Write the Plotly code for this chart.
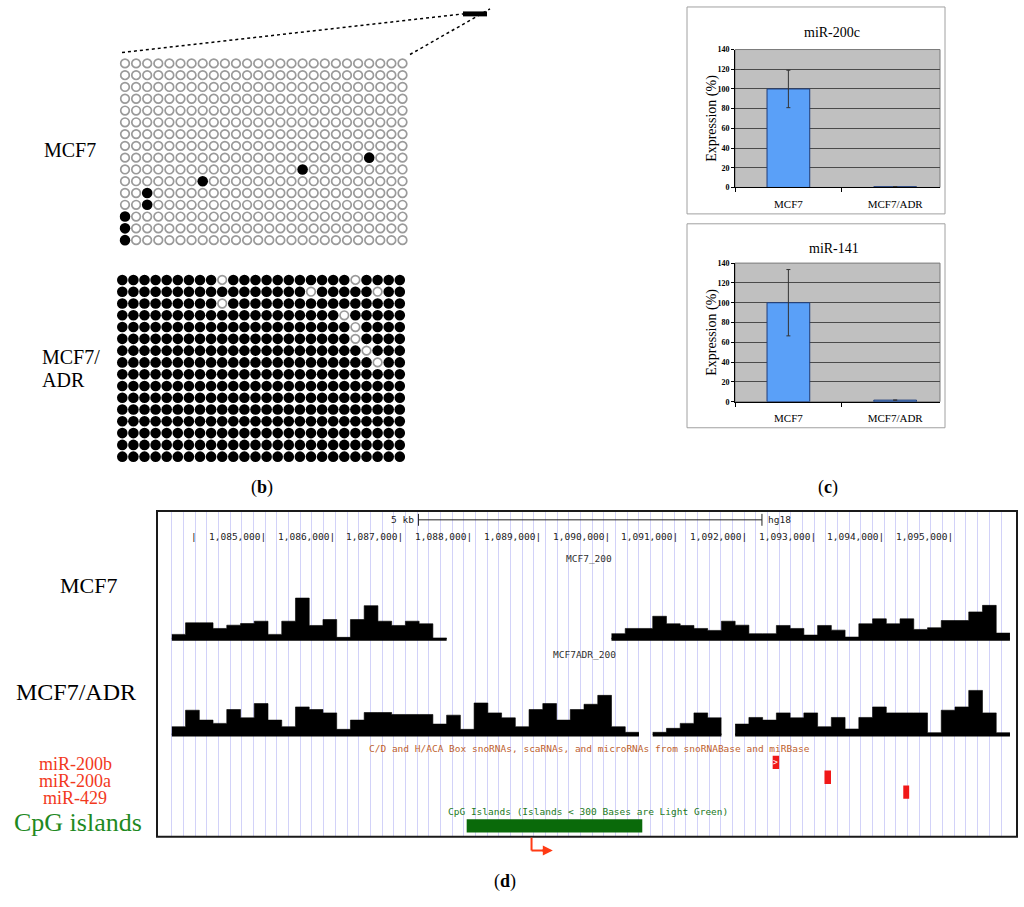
import plotly.graph_objects as go

W, H = 1024, 907
SERIF = "Liberation Serif"
MONO = "DejaVu Sans Mono"

# (b) bisulfite sequencing: 16 clones x 26 CpG sites
n_clones, n_sites = 16, 26
mcf7_meth_clone = [8, 9, 10, 11, 12, 13, 14, 15]
mcf7_meth_site = [22, 16, 7, 2, 2, 0, 0, 0]
adr_unmeth_clone = [0, 0, 1, 1, 2, 3, 4, 5, 6, 7]
adr_unmeth_site = [9, 21, 17, 23, 9, 20, 21, 21, 22, 23]

# (c) relative expression
cells = ["MCF7", "MCF7/ADR"]
mir200c = [100, 0.8]
mir200c_sd = [19, 0]
mir141 = [100, 1.6]
mir141_sd = [33.5, 0]

# (d) genome browser, chr1 hg18, 200 bp bins (None = no data)
bin_first = 1083600
bin_size = 200
mcf7_cov = [5, 16.7, 16.7, 11, 14.3, 16, 18.3, 5, 18.3, 41.7,
            14, 20, 2, 20, 34, 18.3, 14, 18.3, 15.7, 1,
            None, None, None, None, None, None, None, None, None, None,
            None, None, 5.7, 11, 11, 23.3, 15.7, 14, 11, 9,
            18.3, 14.3, 5.7, 5.7, 14, 11, 4.3, 14, 9.3, 2.3,
            15.7, 20.7, 15.7, 20.7, 10, 11.7, 19, 19, 27.7, 34.3, 6.3]
adr_cov = [8.3, 25, 15, 11.7, 25.7, 17.3, 31.7, 15, 8.3, 28.3,
           25.7, 22.3, 5.7, 15, 22.7, 22.7, 20.7, 20.7, 20.7, 11,
           20, 5.7, 32.3, 22.3, 17.3, 8.3, 25.7, 31.7, 15, 25.7,
           31, 40, 8.3, 2.7, None, 2.7, 6.7, 11.7, 22.3, 17.3,
           None, 11, 17.7, 15, 22.3, 17.3, 22.3, 8.3, 17.7, 6,
           17.7, 28.3, 22.3, 22.3, 22.3, 2.3, 25, 28.3, 45, 22.3, 2.3]
ruler = list(range(1084000, 1096000, 1000))
mirna_names = ["miR-200b", "miR-200a", "miR-429"]
mirna_start = [1092346, 1093100, 1094247]
mirna_end = [1092440, 1093195, 1094333]
cpg_start = [1087892]
cpg_end = [1090448]
tss = 1088836
scalebar_start, scalebar_len = 1087190, 5000


def xd(a, b):
    return [a / W, b / W]


def yd(top, bottom):
    return [1 - bottom / H, 1 - top / H]


def px(x):
    return x / W


def py(y):
    return 1 - y / H


# genome coordinate <-> pixel mapping of the browser image
BP_PX, REF_BP, REF_PX = 0.0687, 1085000, 268


def grange(a, b):
    return [REF_BP + (a - REF_PX) / BP_PX, REF_BP + (b - REF_PX) / BP_PX]


fig = go.Figure()

# browser guide lines (drawn first, under tracks)
fig.add_trace(go.Scatter(x=[None], y=[None], xaxis="x", yaxis="y", hoverinfo="skip"))


def dot_traces(marked_clone, marked_site, default_filled, xa, ya):
    marks = set(zip(marked_clone, marked_site))
    fx, fy, ox, oy = [], [], [], []
    for r in range(n_clones):
        for c in range(n_sites):
            if ((r, c) in marks) != default_filled:
                fx.append(c); fy.append(r)
            else:
                ox.append(c); oy.append(r)
    return [
        go.Scatter(x=ox, y=oy, mode="markers", xaxis=xa, yaxis=ya,
                   marker=dict(size=8.6, color="white", line=dict(color="#9a9a9a", width=1.7))),
        go.Scatter(x=fx, y=fy, mode="markers", xaxis=xa, yaxis=ya,
                   marker=dict(size=10.6, color="black", line=dict(width=0))),
    ]


fig.add_traces(dot_traces(mcf7_meth_clone, mcf7_meth_site, False, "x2", "y2"))
fig.add_traces(dot_traces(adr_unmeth_clone, adr_unmeth_site, True, "x3", "y3"))

# (c) bar charts
for vals, sd, xa, ya in [(mir200c, mir200c_sd, "x4", "y4"), (mir141, mir141_sd, "x5", "y5")]:
    fig.add_trace(go.Bar(
        x=cells, y=vals, width=0.4, xaxis=xa, yaxis=ya,
        marker=dict(color="#5aa0f8", line=dict(color="#1f3c78", width=1)),
        error_y=dict(type="data", array=sd, color="#333333", thickness=1, width=2),
    ))


def cov_traces(vals, xa, ya):
    # one stepped, filled profile per covered stretch, plus its baseline
    runs, cur = [], []
    for i, v in enumerate(vals + [None]):
        if v is not None:
            cur.append(i)
        elif cur:
            runs.append(cur)
            cur = []
    out = []
    for run in runs:
        edges = [bin_first + bin_size * i for i in run] + [bin_first + bin_size * (run[-1] + 1)]
        heights = [vals[i] for i in run] + [vals[run[-1]]]
        out.append(go.Scatter(x=edges, y=heights, mode="lines", xaxis=xa, yaxis=ya,
                              fill="tozeroy", fillcolor="black",
                              line=dict(shape="hv", color="black", width=0.6)))
        out.append(go.Scatter(x=[edges[0], edges[-1]], y=[0, 0], mode="lines",
                              xaxis=xa, yaxis=ya, line=dict(color="black", width=3)))
    return out


fig.add_traces(cov_traces(mcf7_cov, "x6", "y6"))
fig.add_traces(cov_traces(adr_cov, "x7", "y7"))

# feature track: miRNAs rows 0..2, CpG island lower row
mirna_rows = [0, 1, 2]
cpg_row = 4.27
fig.add_trace(go.Bar(
    orientation="h", base=mirna_start, x=[e - s for s, e in zip(mirna_start, mirna_end)],
    y=mirna_rows, width=0.9, xaxis="x8", yaxis="y8",
    marker=dict(color="#f01818", line=dict(width=0)),
))
fig.add_trace(go.Bar(
    orientation="h", base=cpg_start, x=[e - s for s, e in zip(cpg_start, cpg_end)],
    y=[cpg_row], width=0.9, xaxis="x8", yaxis="y8",
    marker=dict(color="#0a6a0a", line=dict(width=0)),
))

hidden = dict(visible=False)
G = grange(158, 1016)
layout = dict(
    width=W, height=H, margin=dict(l=0, r=0, t=0, b=0),
    paper_bgcolor="white", plot_bgcolor="rgba(0,0,0,0)",
    showlegend=False, barmode="overlay",
    xaxis=dict(domain=xd(170, 1012), range=grange(170, 1012), anchor="y",
               showgrid=True, gridcolor="#d2d2f8", gridwidth=1, tick0=bin_first, dtick=170,
               showticklabels=False, ticks="", zeroline=False, showline=False),
    yaxis=dict(domain=yd(513, 840), range=[0, 1], anchor="x", visible=False),
    xaxis2=dict(domain=xd(119.45, 408.05), range=[-0.5, n_sites - 0.5], anchor="y2", **hidden),
    yaxis2=dict(domain=yd(54.05, 244.45), range=[n_clones - 0.5, -0.5], anchor="x2", **hidden),
    xaxis3=dict(domain=xd(116.75, 405.35), range=[-0.5, n_sites - 0.5], anchor="y3", **hidden),
    yaxis3=dict(domain=yd(272.75, 463.15), range=[n_clones - 0.5, -0.5], anchor="x3", **hidden),
    xaxis6=dict(domain=xd(158, 1016), range=G, anchor="y6", **hidden),
    yaxis6=dict(domain=yd(591.7, 643.7), range=[-2, 50], anchor="x6", **hidden),
    xaxis7=dict(domain=xd(158, 1016), range=G, anchor="y7", **hidden),
    yaxis7=dict(domain=yd(688.3, 740.3), range=[-2, 50], anchor="x7", **hidden),
    xaxis8=dict(domain=xd(158, 1016), range=G, anchor="y8", **hidden),
    yaxis8=dict(domain=yd(755, 841), range=[5.0, -0.733], anchor="x8", **hidden),
)

for n, (top, bot) in [(4, (46, 185.3)), (5, (261.7, 401.7))]:
    layout[f"xaxis{n}"] = dict(
        domain=xd(735, 940), range=[-0.5, 1.42], anchor=f"y{n}", type="category",
        showline=True, linecolor="black", linewidth=1, ticks="outside", tickson="boundaries",
        ticklen=4, tickcolor="black", ticklabelstandoff=6,
        tickfont=dict(family=SERIF, size=11, color="black"), showgrid=False)
    layout[f"yaxis{n}"] = dict(
        domain=yd(top, bot), range=[0, 140], dtick=20, anchor=f"x{n}",
        showgrid=True, gridcolor="#4a4a4a", gridwidth=1, zeroline=False,
        showline=True, linecolor="black", linewidth=1, ticks="outside", ticklen=3,
        tickcolor="black", tickfont=dict(family=SERIF, size=8, color="black", weight="bold"))

shapes = []
# (c) plot areas and chart frames
for n in (4, 5):
    shapes.append(dict(type="rect", xref=f"x{n} domain", yref=f"y{n} domain", x0=0, x1=1, y0=0, y1=1,
                       fillcolor="#c0c0c0", line=dict(color="#7a7a7a", width=1), layer="below"))
for top, bot in [(3, 212), (222, 428)]:
    shapes.append(dict(type="rect", xref="paper", yref="paper", x0=px(687), x1=px(945),
                       y0=py(bot), y1=py(top), line=dict(color="#a0a0a0", width=1)))

# (b) zoom indicator
shapes += [
    dict(type="line", xref="paper", yref="paper", x0=px(122), y0=py(49), x1=px(463), y1=py(10),
         line=dict(color="black", width=1.5, dash="dot")),
    dict(type="line", xref="paper", yref="paper", x0=px(410), y0=py(51), x1=px(490), y1=py(5),
         line=dict(color="black", width=1.5, dash="dot")),
    dict(type="rect", xref="paper", yref="paper", x0=px(463), x1=px(487), y0=py(12.5), y1=py(7.5),
         fillcolor="black", line=dict(width=0)),
]

# (d) browser frame, scale bar and TSS arrow
shapes.append(dict(type="rect", xref="paper", yref="paper", x0=px(157), x1=px(1017),
                   y0=py(841), y1=py(512), line=dict(color="#1a1a1a", width=2)))
sb0, sb1 = scalebar_start, scalebar_start + scalebar_len
shapes += [
    dict(type="line", xref="x6", yref="paper", x0=sb0, x1=sb1, y0=py(521), y1=py(521),
         line=dict(color="#222", width=1)),
    dict(type="line", xref="x6", yref="paper", x0=sb0, x1=sb0, y0=py(515), y1=py(527),
         line=dict(color="#222", width=1)),
    dict(type="line", xref="x6", yref="paper", x0=sb1, x1=sb1, y0=py(515), y1=py(527),
         line=dict(color="#222", width=1)),
    dict(type="line", xref="x8", yref="paper", x0=tss, x1=tss, y0=py(842), y1=py(855),
         line=dict(color="#ff3a14", width=2)),
    dict(type="line", xref="x8", yref="paper", x0=tss, x1=tss + 220, y0=py(855), y1=py(855),
         line=dict(color="#ff3a14", width=2)),
]
layout["shapes"] = shapes


def note(text, x, y, size, color="black", family=SERIF, xanchor="center", **kw):
    return dict(text=text, x=px(x), y=py(y), xref="paper", yref="paper", showarrow=False,
                font=dict(size=size, color=color, family=family), xanchor=xanchor,
                yanchor="middle", **kw)


ann = [
    note("MCF7", 70, 147, 20),
    note("MCF7/", 40, 357, 20, xanchor="left"),
    note("ADR", 40, 380, 20, xanchor="left"),
    note("(<b>b</b>)", 262, 488, 18),
    note("(<b>c</b>)", 828, 488, 18),
    note("(<b>d</b>)", 505, 886, 18),
    note("miR-200c", 832, 29, 14),
    note("miR-141", 834, 247, 14),
    note("Expression (%)", 712, 116, 14, textangle=-90),
    note("Expression (%)", 712, 332, 14, textangle=-90),
    note("MCF7", 88, 587, 22),
    note("MCF7/ADR", 76, 695, 24),
    note(mirna_names[0], 75, 768, 18, color="#f2391d"),
    note(mirna_names[1], 75, 785, 18, color="#f2391d"),
    note(mirna_names[2], 75, 802, 18, color="#f2391d"),
    note("CpG islands", 78, 827, 26, color="#1f8a1f"),
    note("MCF7_200", 589, 560, 9.5, color="#303030", family=MONO),
    note("MCF7ADR_200", 584, 657, 9.5, color="#303030", family=MONO),
    note("C/D and H/ACA Box snoRNAs, scaRNAs, and microRNAs from snoRNABase and miRBase",
         589, 752, 9.5, color="#c0622e", family=MONO),
    note("CpG Islands (Islands &lt; 300 Bases are Light Green)", 588, 816, 9.5,
         color="#237a23", family=MONO),
]
for t in ruler:
    ann.append(dict(text=("|" if t == ruler[0] else f"{t:,}|"), x=t, y=py(538), xref="x6",
                    yref="paper", showarrow=False, xanchor="right", yanchor="middle",
                    font=dict(family=MONO, size=9.5, color="#222")))
ann.append(dict(text="5 kb", x=sb0, y=py(521), xref="x6", yref="paper", showarrow=False,
                xanchor="right", xshift=-2, font=dict(family=MONO, size=9.5, color="#222")))
ann.append(dict(text="hg18", x=sb1, y=py(521), xref="x6", yref="paper", showarrow=False,
                xanchor="left", xshift=4, font=dict(family=MONO, size=9.5, color="#222")))
ann.append(dict(text=">", x=(mirna_start[0] + mirna_end[0]) / 2, y=mirna_rows[0], xref="x8",
                yref="y8", showarrow=False, font=dict(family=MONO, size=8, color="white")))
ann.append(dict(text="", x=tss + 310, y=py(855), xref="x8", yref="paper", showarrow=True,
                ax=-12, ay=0, arrowhead=2, arrowsize=1, arrowwidth=2, arrowcolor="#ff3a14"))
layout["annotations"] = ann

fig.update_layout(**layout)
fig.write_html("out.html", config={"displayModeBar": False},
               post_script="document.body.style.margin='0';document.body.style.overflow='hidden';")
